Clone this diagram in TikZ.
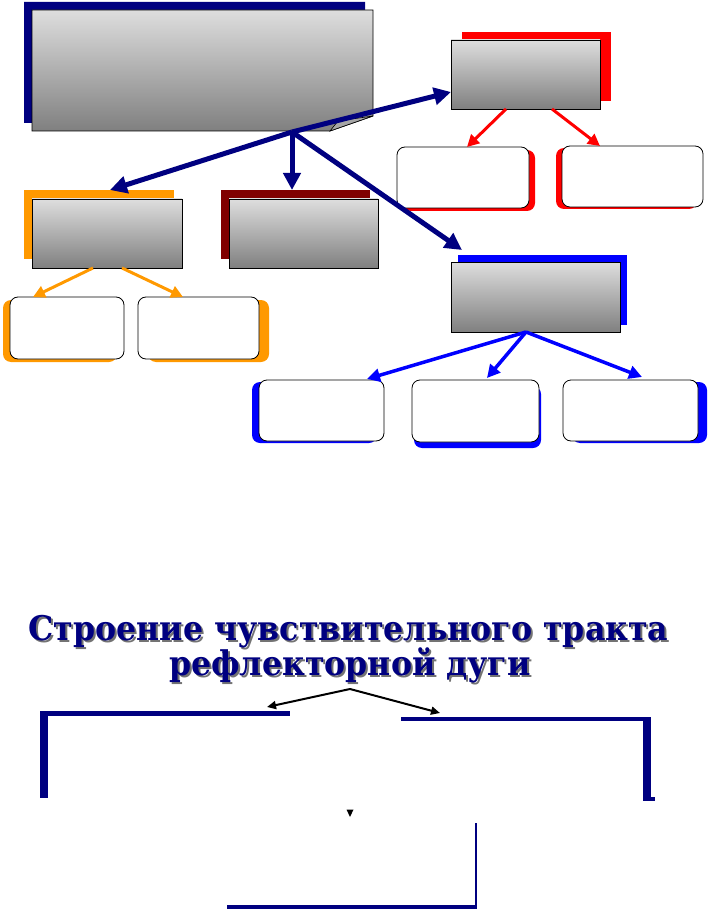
\documentclass[tikz,border=0pt]{standalone}
\usepackage{fontspec}
\newfontfamily\titlefont{DejaVu Serif}
\usetikzlibrary{arrows.meta}
\usetikzlibrary{shadows,calc}
\definecolor{navyc}{RGB}{0,0,128}
\definecolor{redc}{RGB}{255,0,0}
\definecolor{orangec}{RGB}{255,153,0}
\definecolor{maroonc}{RGB}{128,0,0}
\definecolor{bluec}{RGB}{0,0,255}
\newcommand{\narrowtitle}[1]{\scalebox{0.93}[1]{#1}}

\begin{document}
\begin{tikzpicture}[x=1pt,y=-1pt,
         graybox/.style = {draw=black,line width=0.8pt,anchor=north west,
            inner sep=0pt,outer sep=0pt,top color=black!13,bottom color=black!50},
         whitebox/.style = {draw=black,line width=0.8pt,anchor=north west,fill=white,
            rounded corners=8pt,inner sep=0pt,outer sep=0pt},
         backing/.style n args = {3}{general shadow={fill=#1,
            shadow xshift=#2pt,shadow yshift=#3pt}},
         navyarrow/.style = {navyc,line width=5pt,-{Triangle[length=17pt,width=17pt]}},
         redarrow/.style = {redc,line width=3pt,-{Triangle[length=12pt,width=12pt]}},
         orangearrow/.style = {orangec,line width=3pt,-{Triangle[length=12pt,width=12pt]}},
         bluearrow/.style = {bluec,line width=3.5pt,-{Triangle[length=13pt,width=13pt]}},
         thinarrow/.style = {black,line width=2pt,-{Triangle[length=9pt,width=8pt]}},
         titletext/.style = {anchor=base,inner sep=0pt,
            font=\titlefont\bfseries\fontsize{34}{36}\selectfont}
]
      \useasboundingbox (0,0) rectangle (709,909);

      % upper scheme
      \shade[top color=black!13,bottom color=black!50,draw=black,line width=0.8pt,
         backing={navyc}{-8}{8}]
         (32,10) -- (373,10) -- (373,116) -- (330,131) -- (32,131) -- cycle;
      \filldraw[fill=black!35,line width=0.6pt] (330,131) -- (338,121) -- (373,116) -- cycle;
      \coordinate (hub) at (292,132);

      \node[graybox,backing={redc}{11}{8},minimum width=149pt,minimum height=69pt] (red) at (451,40) {};
      \node[graybox,backing={orangec}{-8}{9},minimum width=150pt,minimum height=69pt] (orng) at (32,199) {};
      \node[graybox,backing={maroonc}{-8}{9},minimum width=149pt,minimum height=69pt] (mrn) at (229,199) {};
      \node[graybox,backing={bluec}{7}{7},minimum width=169pt,minimum height=70pt] (blu) at (451,262) {};

      \node[whitebox,backing={redc}{6}{-3},minimum width=132pt,minimum height=61pt] (redL) at (397,147) {};
      \node[whitebox,backing={redc}{-6}{-2},minimum width=141pt,minimum height=61pt] (redR) at (562,146) {};
      \node[whitebox,backing={orangec}{-7}{-3},minimum width=114pt,minimum height=62pt] (orngL) at (10,297) {};
      \node[whitebox,backing={orangec}{10}{-3},minimum width=121pt,minimum height=62pt] (orngR) at (138,297) {};
      \node[whitebox,backing={bluec}{-7}{-2},minimum width=125pt,minimum height=61pt] (bluL) at (259,380) {};
      \node[whitebox,backing={bluec}{2}{-6},minimum width=127pt,minimum height=62pt] (bluM) at (412,380) {};
      \node[whitebox,backing={bluec}{9}{-2},minimum width=135pt,minimum height=61pt] (bluR) at (563,380) {};

      \draw[navyarrow] (hub) -- (red.west |- 0,92);
      \draw[navyarrow] (hub) -- ($(orng.north)+(3,-9)$);
      \draw[navyarrow] (hub) -- ($(hub |- mrn.north)+(0,-9)$);
      \draw[navyarrow] (hub) -- ($(blu.north west)+(11,-12)$);

      \draw[redarrow] ($(red.south)+(-19.5,0)$) -- ($(redL.north)+(4,0)$);
      \draw[redarrow] ($(red.south)+(26.5,0)$) -- ($(redR.north)+(-32.5,0)$);

      \draw[orangearrow] ($(orng.south)+(-14,0)$) -- ($(orngL.north)+(-34,0)$);
      \draw[orangearrow] ($(orng.south)+(15,0)$) -- ($(orngR.north)+(-15.5,0)$);

      \coordinate (bhub) at ($(blu.south)+(-9.5,0)$);
      \draw[bluearrow] (bhub) -- ($(bluL.north)+(45.5,-1)$);
      \draw[bluearrow] (bhub) -- ($(bluM.north)+(11.5,-2)$);
      \draw[bluearrow] (bhub) -- ($(bluR.north)+(11.5,-3)$);

      % title
      \node[titletext,black!55] (title1s) at (350.5,642) {\narrowtitle{Строение чувствительного тракта}};
      \node[titletext,navyc] (title1) at (348.5,640) {\narrowtitle{Строение чувствительного тракта}};
      \node[titletext,black!55] (title2s) at (352,677) {\narrowtitle{рефлекторной дуги}};
      \node[titletext,navyc] (title2) at (350,675) {\narrowtitle{рефлекторной дуги}};

      % lower scheme
      \coordinate (apex) at (350,689);
      \coordinate (ltip) at (267,707);
      \coordinate (rtip) at (440,713);
      \draw[thinarrow] (apex) -- (ltip);
      \draw[thinarrow] (apex) -- (rtip);

      \fill[navyc] (40,711) rectangle (290,716);
      \fill[navyc] (40,711) rectangle (48,798);
      \fill[navyc] (401,717) rectangle (651,721);
      \fill[navyc] (643,717) rectangle (651,801);
      \fill[navyc] (643,797) rectangle (655,801);
      \fill (346.5,809.5) -- (353.5,809.5) -- (350,817) -- cycle;
      \draw[navyc,line width=1.5pt] (476,823) -- (476,906);
      \fill[navyc] (227,905) rectangle (477,909);
\end{tikzpicture}
\end{document}
